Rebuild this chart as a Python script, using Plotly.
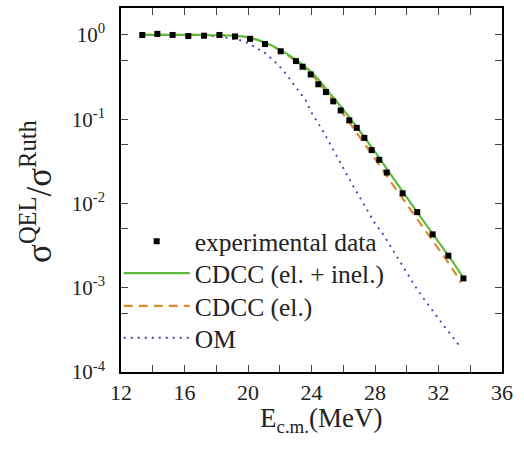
import plotly.graph_objects as go

# Experimental data
exp_x = [13.34, 14.29, 15.25, 16.24, 17.23, 18.2, 19.18, 20.13, 21.07, 22.06, 23.02, 23.44,
         23.95, 24.43, 24.91, 25.37, 25.84, 26.38, 26.85, 27.33, 27.79, 28.27, 28.74, 29.74,
         30.66, 31.63, 32.62, 33.57]
exp_y = [1.0, 1.03, 1.0, 0.97, 0.98, 1.0, 0.96, 0.90, 0.78, 0.64, 0.49, 0.42,
         0.34, 0.26, 0.21, 0.163, 0.127, 0.097, 0.079, 0.060, 0.043, 0.033, 0.0233, 0.0132,
         0.0079, 0.0043, 0.0024, 0.00129]

# CDCC (el. + inel.)
cdcc_full_x = [13.3, 15, 17, 19, 20, 21, 22, 23, 24, 25, 26, 27, 28, 29, 30, 31, 32, 33, 33.57]
cdcc_full_y = [1.0, 1.0, 1.0, 0.98, 0.94, 0.82, 0.67, 0.51, 0.36, 0.22, 0.13, 0.074, 0.041,
               0.022, 0.0118, 0.0064, 0.0035, 0.0019, 0.0013]

# CDCC (el.)
cdcc_el_x = [13.3, 15, 17, 19, 20, 21, 22, 23, 24, 25, 26, 27, 28, 29, 30, 31, 32, 33, 33.4]
cdcc_el_y = [1.0, 1.0, 1.0, 0.98, 0.93, 0.81, 0.66, 0.49, 0.34, 0.205, 0.115, 0.063, 0.034,
             0.018, 0.0098, 0.0053, 0.0029, 0.00155, 0.00115]

# OM
om_x = [13.3, 15, 17, 18.75, 19.4, 19.9, 20.55, 21.13, 21.7, 22.27, 22.75, 23.23, 23.65, 23.95,
        24.37, 24.75, 25.12, 25.48, 25.84, 26.17, 26.53, 26.9, 27.31, 27.64, 28.0, 28.48, 28.84,
        29.26, 29.68, 30.1, 30.52, 30.94, 31.36, 31.84, 32.3, 32.83, 33.31]
om_y = [1.0, 1.0, 1.0, 0.92, 0.88, 0.81, 0.70, 0.60, 0.48, 0.37, 0.28, 0.21, 0.166, 0.124,
        0.093, 0.071, 0.053, 0.040, 0.031, 0.023, 0.0173, 0.0132, 0.0099, 0.0076, 0.0058, 0.0044,
        0.0034, 0.0025, 0.0019, 0.0014, 0.00105, 0.00080, 0.00062, 0.00047, 0.00036, 0.00027,
        0.000205]

x_ticks = [12, 16, 20, 24, 28, 32, 36]
y_tickvals = [1, 0.1, 0.01, 0.001, 0.0001]
y_ticktext = ["10<sup>0</sup>", "10<sup>-1</sup>", "10<sup>-2</sup>", "10<sup>-3</sup>", "10<sup>-4</sup>"]

serif = "Times New Roman, Liberation Serif, DejaVu Serif, serif"
txt = "#222"

fig = go.Figure()
fig.add_trace(go.Scatter(x=om_x, y=om_y, mode="lines", name="OM",
                         line=dict(color="#3f3fae", width=1.8, dash="2px,5px"),
                         legend="legend4"))
fig.add_trace(go.Scatter(x=cdcc_el_x, y=cdcc_el_y, mode="lines", name="CDCC (el.)",
                         line=dict(color="#e0892f", width=2.2, dash="9px,6px", shape="spline"),
                         legend="legend3"))
fig.add_trace(go.Scatter(x=cdcc_full_x, y=cdcc_full_y, mode="lines", name="CDCC (el. + inel.)",
                         line=dict(color="#5cbb3e", width=2.2, shape="spline"),
                         legend="legend2"))
fig.add_trace(go.Scatter(x=exp_x, y=exp_y, mode="markers", name="experimental data",
                         marker=dict(symbol="square", size=6, color="black"),
                         legend="legend"))

H0, PH, L0, PW = 372, 366, 121, 381  # plot bottom px, plot height, plot left px, plot width
def leg(ypx):
    return dict(x=-0.006, y=(H0 - ypx) / PH, xanchor="left", yanchor="middle",
                bgcolor="rgba(0,0,0,0)", font=dict(family=serif, size=25.5, color=txt),
                itemwidth=66)

fig.update_layout(
    width=524, height=455,
    margin=dict(l=121, r=22, t=6, b=83),
    paper_bgcolor="white", plot_bgcolor="white",
    font=dict(family=serif, color=txt, size=18),
    legend=leg(241), legend2=leg(273), legend3=leg(306), legend4=leg(338),
    showlegend=True,
)
fig.add_annotation(text="E<sub>c.m.</sub>(MeV)", xref="paper", yref="paper",
                   x=(321 - L0) / PW, y=0, xanchor="center", yanchor="middle",
                   yshift=-48, showarrow=False, font=dict(family=serif, size=27, color=txt))
fig.add_annotation(text="σ<sup>QEL</sup>/σ<sup>Ruth</sup>", xref="paper", yref="paper",
                   x=(37 - L0) / PW, y=(H0 - 191) / PH, xanchor="center", yanchor="middle",
                   textangle=-90, showarrow=False, font=dict(family=serif, size=35, color=txt))
fig.update_xaxes(
    range=[12, 36], tickvals=x_ticks, ticks="inside", ticklen=7, tickwidth=1.3,
    showline=True, linecolor="black", linewidth=1.6, mirror="allticks", showgrid=False,
    zeroline=False,
    minor=dict(dtick=2, ticks="inside", ticklen=7, tickwidth=1.3, showgrid=False),
    tickfont=dict(family=serif, size=22, color=txt),
)
fig.update_yaxes(
    type="log", range=[-4, 0.32], tickvals=y_tickvals, ticktext=y_ticktext,
    ticks="inside", ticklen=7, tickwidth=1.3, ticklabelstandoff=10,
    showline=True, linecolor="black", linewidth=1.6, mirror="allticks", showgrid=False,
    zeroline=False,
    minor=dict(tickvals=[0.5, 0.05, 0.005, 0.0005], ticks="inside", ticklen=7, tickwidth=1.3, showgrid=False),
    tickfont=dict(family=serif, size=21, color=txt),
)

fig.write_html("out.html", post_script="document.body.style.margin='0px';",
               config={"displayModeBar": False})
